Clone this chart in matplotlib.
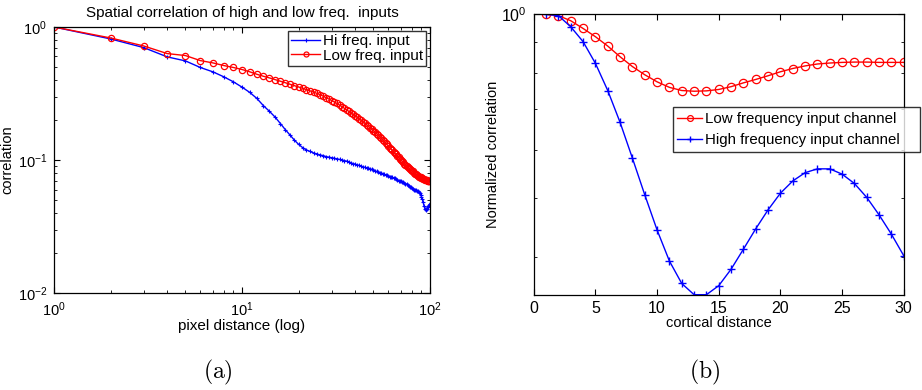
import numpy as np
import matplotlib
matplotlib.use("Agg")
import matplotlib.pyplot as plt
from matplotlib.ticker import LogLocator, NullFormatter, FixedLocator

plt.rcParams['font.family'] = ['Liberation Sans', 'DejaVu Sans']
plt.rcParams['mathtext.fontset'] = 'custom'
plt.rcParams['mathtext.rm'] = 'Liberation Sans'

# ---- (a) spatial correlation vs pixel distance ----
pixel_distance = list(range(1, 101))
hi_freq_corr = [
    1.000, 0.813, 0.700, 0.596, 0.556, 0.496, 0.460, 0.422, 0.387, 0.353,
    0.322, 0.290, 0.256, 0.232, 0.210, 0.188, 0.169, 0.154, 0.141, 0.131,
    0.124, 0.119, 0.116, 0.113, 0.111, 0.109, 0.108, 0.106, 0.105, 0.104,
    0.103, 0.102, 0.101, 0.100, 0.099, 0.098, 0.097, 0.095, 0.094, 0.093,
    0.092, 0.091, 0.090, 0.089, 0.088, 0.087, 0.087, 0.086, 0.085, 0.084,
    0.083, 0.082, 0.081, 0.080, 0.080, 0.079, 0.078, 0.077, 0.077, 0.076,
    0.075, 0.075, 0.074, 0.073, 0.073, 0.072, 0.071, 0.070, 0.070, 0.069,
    0.068, 0.068, 0.067, 0.066, 0.066, 0.065, 0.064, 0.063, 0.063, 0.062,
    0.061, 0.060, 0.060, 0.059, 0.058, 0.058, 0.057, 0.056, 0.055, 0.053,
    0.051, 0.048, 0.045, 0.043, 0.042, 0.043, 0.044, 0.045, 0.046, 0.047,
]
low_freq_corr = [
    1.000, 0.827, 0.720, 0.631, 0.610, 0.559, 0.537, 0.513, 0.496, 0.479,
    0.460, 0.441, 0.426, 0.414, 0.402, 0.391, 0.381, 0.371, 0.362, 0.354,
    0.346, 0.338, 0.331, 0.324, 0.317, 0.310, 0.302, 0.294, 0.287, 0.280,
    0.273, 0.266, 0.259, 0.252, 0.245, 0.238, 0.232, 0.226, 0.220, 0.215,
    0.210, 0.204, 0.199, 0.194, 0.189, 0.184, 0.179, 0.175, 0.170, 0.166,
    0.162, 0.158, 0.154, 0.150, 0.146, 0.142, 0.138, 0.134, 0.131, 0.127,
    0.124, 0.121, 0.118, 0.115, 0.112, 0.110, 0.107, 0.105, 0.102, 0.100,
    0.098, 0.096, 0.094, 0.092, 0.090, 0.088, 0.087, 0.085, 0.084, 0.083,
    0.082, 0.080, 0.079, 0.078, 0.077, 0.076, 0.075, 0.075, 0.074, 0.073,
    0.073, 0.072, 0.072, 0.071, 0.071, 0.071, 0.070, 0.070, 0.070, 0.069,
]

# ---- (b) normalized correlation vs cortical distance ----
cortical_distance = list(range(1, 31))
low_channel = [
    1.000, 0.995, 0.976, 0.948, 0.919, 0.887, 0.852, 0.821, 0.796, 0.775,
    0.759, 0.750, 0.748, 0.749, 0.753, 0.761, 0.772, 0.782, 0.793, 0.805,
    0.815, 0.823, 0.829, 0.832, 0.834, 0.835, 0.835, 0.834, 0.834, 0.834,
]
high_channel = [
    1.000, 0.995, 0.954, 0.902, 0.831, 0.750, 0.665, 0.581, 0.506, 0.443,
    0.394, 0.362, 0.347, 0.347, 0.359, 0.382, 0.412, 0.445, 0.478, 0.509,
    0.533, 0.550, 0.558, 0.558, 0.547, 0.528, 0.501, 0.469, 0.436, 0.402,
]

BLUE = (0, 0, 1)
RED = (1, 0, 0)

fig = plt.figure(figsize=(9.22, 3.9), dpi=100)


def matlab_axes(ax, labelsize):
    for s in ax.spines.values():
        s.set_linewidth(0.9)
        s.set_color('black')
    ax.tick_params(which='both', direction='in', top=True, right=True,
                   labelsize=labelsize, colors='black')
    ax.tick_params(which='major', length=4, pad=5)
    ax.tick_params(which='minor', length=2.2)


# Panel (a)
ax1 = fig.add_axes([0.0586, 0.2487, 0.4078, 0.6821])
ax1.loglog(pixel_distance, hi_freq_corr, color=BLUE, marker='+',
           markersize=3.5, markeredgewidth=0.8, linewidth=1.0,
           label='Hi freq. input')
ax1.loglog(pixel_distance, low_freq_corr, color=RED, marker='o',
           markersize=4.5, markerfacecolor='none', markeredgewidth=0.9,
           linewidth=1.0, label='Low freq. input')
ax1.set_xlim(1, 100)
ax1.set_ylim(1e-2, 1)
ax1.xaxis.set_minor_locator(LogLocator(base=10, subs=np.arange(2, 10)))
ax1.yaxis.set_minor_locator(LogLocator(base=10, subs=np.arange(2, 10)))
ax1.xaxis.set_minor_formatter(NullFormatter())
ax1.yaxis.set_minor_formatter(NullFormatter())
matlab_axes(ax1, 10.5)
ax1.set_xlabel('pixel distance (log)', fontsize=11, labelpad=0)
ax1.set_ylabel('correlation', fontsize=10.5, labelpad=2)
ax1.set_title('Spatial correlation of high and low freq.  inputs',
              fontsize=11, pad=7)
leg1 = ax1.legend(loc='upper right', bbox_to_anchor=(0.99, 0.985),
                  fontsize=11, frameon=True, fancybox=False,
                  handlelength=1.9, handletextpad=0.2, borderpad=0.2,
                  labelspacing=0.05, borderaxespad=0.0, markerscale=0.8)
leg1.get_frame().set_edgecolor('black')
leg1.get_frame().set_linewidth(1.0)

# Panel (b)
ax2 = fig.add_axes([0.5789, 0.2444, 0.4013, 0.7189])
ax2.semilogy(cortical_distance, low_channel, color=RED, marker='o',
             markersize=6, markerfacecolor='none', markeredgewidth=0.9,
             linewidth=1.0, label='Low frequency input channel')
ax2.semilogy(cortical_distance, high_channel, color=BLUE, marker='+',
             markersize=6, markeredgewidth=1.0, linewidth=1.0,
             label='High frequency input channel')
ax2.set_xlim(0, 30)
ax2.set_ylim(min(high_channel), 1)
ax2.set_xticks([0, 5, 10, 15, 20, 25, 30])
ax2.yaxis.set_major_locator(FixedLocator([1.0]))
ax2.yaxis.set_minor_locator(LogLocator(base=10, subs=np.arange(2, 10)))
ax2.yaxis.set_minor_formatter(NullFormatter())
ax2.set_yticklabels([r'$\mathdefault{10^{0}}$'])
matlab_axes(ax2, 11.5)
ax2.tick_params(axis='x', which='major', pad=4.5)
ax2.set_xlabel('cortical distance', fontsize=10.5, labelpad=0)
ax2.set_ylabel('Normalized correlation', fontsize=10.5, labelpad=0.5)

# legend box spans a fixed width in figure coordinates
lx0, lx1 = 672.7 / 922, 920.0 / 922
ly0, ly1 = 1 - 150.7 / 390, 1 - 107.3 / 390
leg2 = ax2.legend(loc='upper left', bbox_to_anchor=(lx0, ly0, lx1 - lx0, ly1 - ly0),
                  bbox_transform=fig.transFigure, mode='expand',
                  fontsize=10.8, frameon=True, fancybox=False,
                  handlelength=1.65, handletextpad=0.22, borderpad=0.3,
                  labelspacing=0.5, borderaxespad=0.0, markerscale=0.7)
leg2.get_frame().set_edgecolor('black')
leg2.get_frame().set_linewidth(1.0)

# Subfigure captions
fig.text(217.7 / 922, 1 - 372.5 / 390, r'$\mathrm{(a)}$', ha='center', va='center',
         fontsize=17, math_fontfamily='cm')
fig.text(705 / 922, 1 - 372.5 / 390, r'$\mathrm{(b)}$', ha='center', va='center',
         fontsize=17, math_fontfamily='cm')

fig.savefig('out.png', dpi=100)
